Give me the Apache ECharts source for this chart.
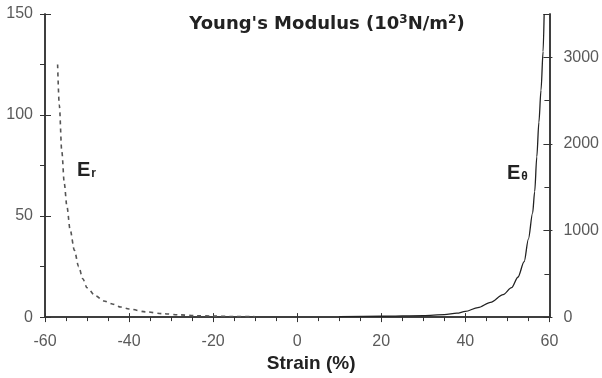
<!DOCTYPE html>
<html>
<head>
<meta charset="utf-8">
<script src="https://cdn.jsdelivr.net/npm/echarts@6/dist/echarts.min.js"></script>
<style>html,body{margin:0;padding:0;background:#fff}#c{width:602px;height:378px}</style>
</head>
<body>
<div id="c"></div>
<script>
// Strain (%) vs Young's modulus
const erStrain = [-57, -56.6, -56, -55.4, -54.8, -54, -53, -52, -51, -50, -48, -46, -44, -42, -40, -36, -32, -28, -24, -20, -15, -10];
const erValues = [125, 105, 82, 66, 55, 43, 33, 25, 19, 14.5, 10.5, 8, 6.5, 5, 4, 2.6, 1.7, 1.1, 0.7, 0.5, 0.3, 0.2];
const etStrain = [10, 20, 30, 35, 38, 40, 43, 46, 49, 51, 52.5, 54, 55, 56, 56.5, 57, 57.5, 58, 58.5, 58.75];
const etValues = [5, 10, 18, 28, 45, 65, 110, 170, 260, 340, 460, 640, 900, 1200, 1450, 1850, 2250, 2620, 3068, 3500];
const xTicks = [-60, -40, -20, 0, 20, 40, 60];
const leftTicks = [0, 50, 100, 150];
const rightTicks = [0, 1000, 2000, 3000];

const chart = echarts.init(document.getElementById('c'), null, {renderer: 'canvas'});
const font = '"Liberation Sans", Arial, sans-serif';
const axisCol = '#333';
const labelCol = '#5a5a5a';
const zip = (a, b) => a.map((v, i) => [v, b[i]]);
const tickStyle = {color: axisCol, width: 1};

const xBase = {
  type: 'value', min: xTicks[0], max: xTicks[xTicks.length - 1], interval: 20,
  position: 'bottom',
  axisLine: {show: true, onZero: false, lineStyle: {color: axisCol, width: 1.5}},
  splitLine: {show: false}
};
const yLeftBase = {
  type: 'value', min: 0, max: 150, interval: 50, position: 'left',
  axisLine: {show: true, onZero: false, lineStyle: {color: axisCol, width: 1.5}},
  splitLine: {show: false}
};
const yRightBase = {
  type: 'value', min: 0, max: 3500, interval: 1000, position: 'right',
  axisLine: {show: true, onZero: false, lineStyle: {color: axisCol, width: 1.5}},
  splitLine: {show: false}
};

chart.setOption({
  animation: false,
  backgroundColor: '#fff',
  title: {
    text: "Young's Modulus (10{s|3}N/m{s|2})",
    left: 322, top: 9, textAlign: 'center',
    textStyle: {
      fontFamily: '"DejaVu Sans", sans-serif', fontSize: 18, fontWeight: 'bold', color: '#222',
      rich: {s: {fontFamily: '"DejaVu Sans", sans-serif', fontSize: 12, fontWeight: 'bold', color: '#222', verticalAlign: 'top', padding: [0, 0, 8, 0]}}
    }
  },
  grid: {left: 45, right: 49, top: 14, bottom: 59},
  xAxis: [
    Object.assign({}, xBase, {
      name: 'Strain (%)', nameLocation: 'middle', nameGap: 34,
      nameTextStyle: {fontFamily: font, fontSize: 19, fontWeight: 'bold', color: '#222', padding: [0, 0, 0, 28]},
      axisTick: {show: true, length: 5, lineStyle: tickStyle},
      minorTick: {show: true, splitNumber: 4, length: 4, lineStyle: tickStyle},
      axisLabel: {fontFamily: font, fontSize: 16, color: labelCol, margin: 16,
        formatter: v => xTicks.includes(v) ? String(v) : ''}
    }),
    Object.assign({}, xBase, {
      axisLabel: {show: false},
      axisTick: {show: true, inside: true, length: 4, lineStyle: tickStyle},
      minorTick: {show: false}
    })
  ],
  yAxis: [
    Object.assign({}, yLeftBase, {
      axisTick: {show: true, length: 5, lineStyle: tickStyle},
      minorTick: {show: true, splitNumber: 2, length: 5, lineStyle: tickStyle},
      axisLabel: {fontFamily: font, fontSize: 16, color: labelCol, margin: 12,
        formatter: v => leftTicks.includes(v) ? String(v) : ''}
    }),
    Object.assign({}, yRightBase, {
      axisTick: {show: true, length: 3, lineStyle: tickStyle},
      minorTick: {show: false},
      axisLabel: {fontFamily: font, fontSize: 16, color: labelCol, margin: 14, showMaxLabel: false,
        formatter: v => rightTicks.includes(v) ? String(v) : ''}
    }),
    Object.assign({}, yLeftBase, {
      axisTick: {show: true, inside: true, length: 6, lineStyle: tickStyle},
      minorTick: {show: false},
      axisLabel: {show: false}
    }),
    Object.assign({}, yRightBase, {
      axisTick: {show: true, inside: true, length: 6, lineStyle: tickStyle},
      minorTick: {show: true, splitNumber: 2, length: 5, lineStyle: tickStyle},
      axisLabel: {show: false}
    })
  ],
  series: [
    {
      name: 'Er', type: 'line', xAxisIndex: 0, yAxisIndex: 0,
      data: zip(erStrain, erValues), showSymbol: false, smooth: 0.3, smoothMonotone: 'x',
      lineStyle: {color: '#555', width: 1.6, type: [4, 4]}, clip: true
    },
    {
      name: 'Etheta', type: 'line', xAxisIndex: 0, yAxisIndex: 1,
      data: zip(etStrain, etValues), showSymbol: false, smooth: 0.3, smoothMonotone: 'x',
      lineStyle: {color: '#222', width: 1.3}, clip: true
    }
  ],
  graphic: [
    {type: 'text', left: 77, top: 160, style: {
      text: 'E{s|r}', fontFamily: font, fontSize: 20, fontWeight: 'bold', fill: '#222',
      rich: {s: {fontFamily: font, fontSize: 12, fontWeight: 'bold', fill: '#222', verticalAlign: 'bottom', padding: [8, 0, 0, 1]}}}},
    {type: 'text', left: 507, top: 163, style: {
      text: 'E{s|θ}', fontFamily: font, fontSize: 20, fontWeight: 'bold', fill: '#222',
      rich: {s: {fontFamily: font, fontSize: 12, fontWeight: 'bold', fill: '#222', verticalAlign: 'bottom', padding: [8, 0, 0, 1]}}}}
  ]
});
</script>
</body>
</html>
